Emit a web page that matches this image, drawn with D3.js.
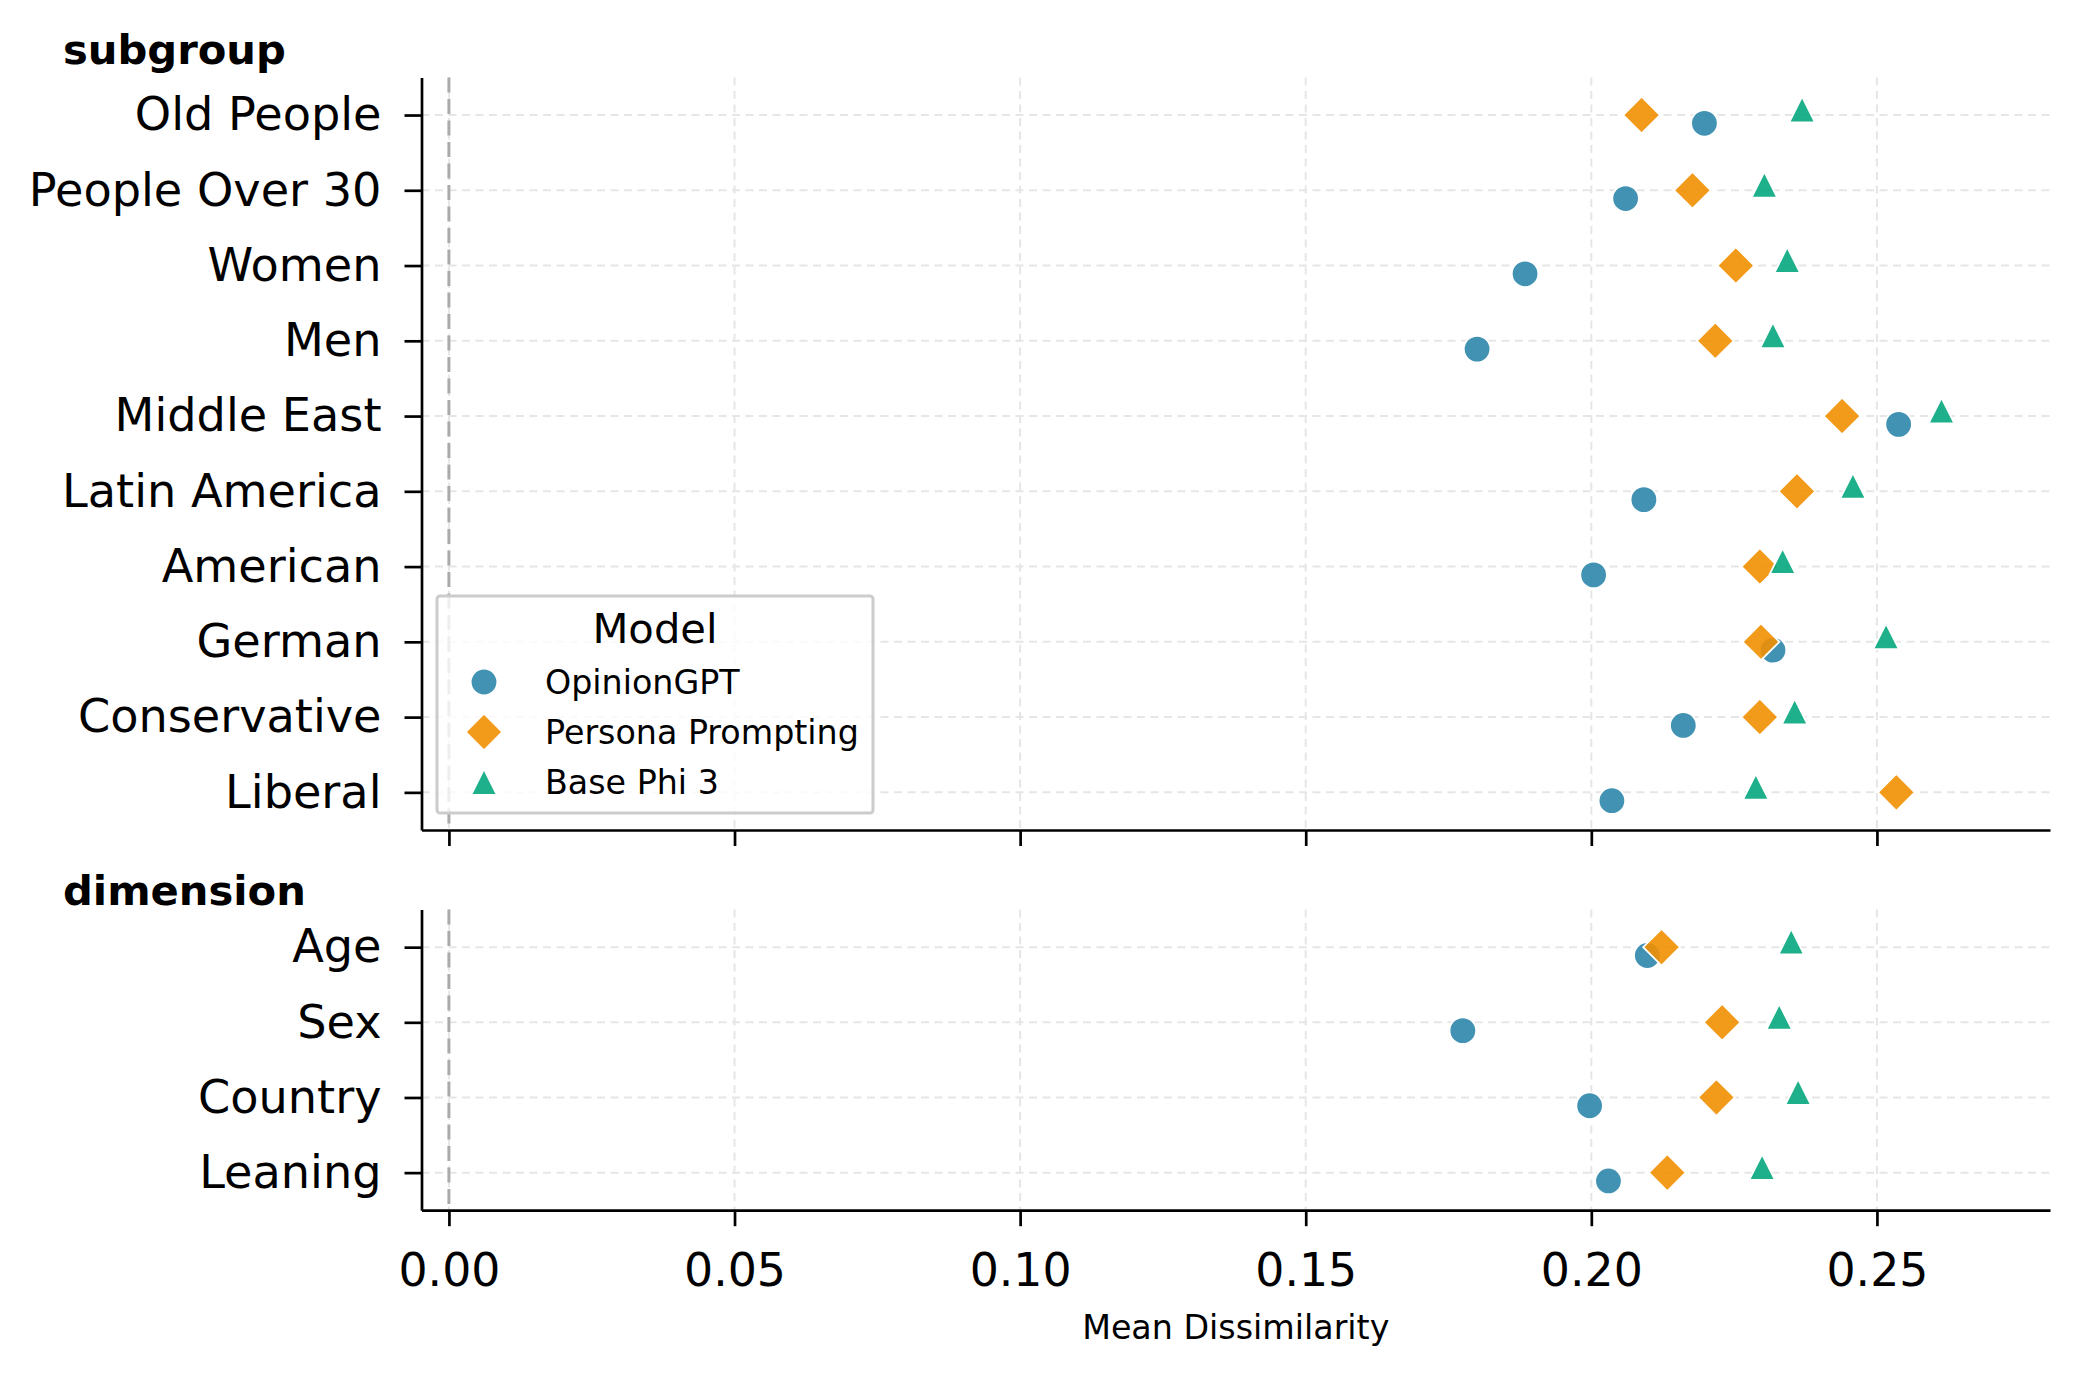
<!DOCTYPE html>
<html>
<head>
<meta charset="utf-8">
<script src="https://cdn.jsdelivr.net/npm/d3@7"></script>
<style>
  body { margin: 0; background: #fff; }
  svg { display: block; font-family: "DejaVu Sans", sans-serif; }
</style>
</head>
<body>
<svg id="chart" width="2078" height="1374"></svg>
<script>
// data
const subgroups = ["Old People", "People Over 30", "Women", "Men", "Middle East",
                   "Latin America", "American", "German", "Conservative", "Liberal"]
const subOpinionGPT = [0.2198, 0.2060, 0.1884, 0.1800, 0.2538, 0.2092, 0.2004, 0.2318, 0.2161, 0.2036]
const subPersona    = [0.2088, 0.2177, 0.2253, 0.2217, 0.2439, 0.2360, 0.2295, 0.2297, 0.2295, 0.2534]
const subBase       = [0.2369, 0.2303, 0.2343, 0.2318, 0.2613, 0.2458, 0.2335, 0.2516, 0.2356, 0.2288]

const dimensions = ["Age", "Sex", "Country", "Leaning"]
const dimOpinionGPT = [0.2098, 0.1775, 0.1997, 0.2030]
const dimPersona    = [0.2123, 0.2229, 0.2219, 0.2133]
const dimBase       = [0.2350, 0.2329, 0.2362, 0.2299]

const xTicks = [0, 0.05, 0.10, 0.15, 0.20, 0.25]
const modelNames = ["OpinionGPT", "Persona Prompting", "Base Phi 3"]

// marker shapes (matplotlib-like)
const diamondShape = {
    draw(ctx, size) {
        const r = Math.sqrt(size) / 2
        ctx.moveTo(0, -r); ctx.lineTo(r, 0); ctx.lineTo(0, r); ctx.lineTo(-r, 0); ctx.closePath()
    }
}
const triangleShape = {
    draw(ctx, size) {
        const r = Math.sqrt(size) / 2
        ctx.moveTo(0, -r); ctx.lineTo(r, r); ctx.lineTo(-r, r); ctx.closePath()
    }
}

const styles = [
    { color: "#2E86AB", type: d3.symbolCircle, size: 556, dy: 8.3 },
    { color: "#F18F01", type: diamondShape, size: 1354, dy: 0 },
    { color: "#06A77D", type: triangleShape, size: 660, dy: -5.5 }
]

const svg = d3.select("#chart")
const left = 421.5, right = 2050

const x = d3.scaleLinear().domain([-0.0048, 0.2803]).range([left, right])

function drawPanel(cats, seriesList, top, bottom, title, titleY, showLabels) {
    const y = d3.scalePoint().domain(cats).range([top, bottom]).padding(0.5)
    const g = svg.append("g")

    // grid
    g.selectAll(".hgrid").data(cats).enter().append("line")
        .attr("x1", left).attr("x2", right)
        .attr("y1", d => y(d)).attr("y2", d => y(d))
        .attr("stroke", "#e6e6e6").attr("stroke-width", 2)
        .attr("stroke-dasharray", "8,5.5")
    g.selectAll(".vgrid").data(xTicks).enter().append("line")
        .attr("x1", d => x(d)).attr("x2", d => x(d))
        .attr("y1", top).attr("y2", bottom)
        .attr("stroke", "#e6e6e6").attr("stroke-width", 2)
        .attr("stroke-dasharray", "8,5.5")

    // zero reference line
    g.append("line")
        .attr("x1", x(0)).attr("x2", x(0))
        .attr("y1", top).attr("y2", bottom)
        .attr("stroke", "#aaaaaa").attr("stroke-width", 3)
        .attr("stroke-dasharray", "15,6.5")

    // points
    seriesList.forEach((vals, i) => {
        const st = styles[i]
        g.selectAll(".pt" + i).data(vals).enter().append("path")
            .attr("d", d3.symbol().type(st.type).size(st.size))
            .attr("transform", (d, j) => `translate(${x(d)},${y(cats[j]) + st.dy})`)
            .attr("fill", st.color).attr("fill-opacity", 0.9)
            .attr("stroke", "#ffffff").attr("stroke-width", 1.8)
    })

    // axes
    const yAxis = g.append("g")
        .attr("transform", `translate(${left},0)`)
        .call(d3.axisLeft(y).tickSize(17).tickPadding(23).tickSizeOuter(0))
    yAxis.selectAll("text").attr("font-size", 46.2).attr("fill", "#000")
        .attr("font-family", "DejaVu Sans")
    yAxis.selectAll("line, path").attr("stroke", "#000").attr("stroke-width", 2.7)

    const xAxis = g.append("g")
        .attr("transform", `translate(0,${bottom})`)
        .call(d3.axisBottom(x).tickValues(xTicks).tickFormat(d3.format(".2f"))
              .tickSize(16).tickPadding(27).tickSizeOuter(0))
    xAxis.selectAll("line, path").attr("stroke", "#000").attr("stroke-width", 2.7)
    xAxis.selectAll("text").attr("font-size", 45.8).attr("fill", "#000")
        .attr("font-family", "DejaVu Sans")
        .style("display", showLabels ? null : "none")

    // panel title
    svg.append("text")
        .attr("x", 63).attr("y", titleY)
        .attr("dominant-baseline", "central")
        .attr("font-size", 41.7).attr("font-weight", "bold")
        .text(title)
}

drawPanel(subgroups, [subOpinionGPT, subPersona, subBase], 77.4, 830, "subgroup", 49, false)
drawPanel(dimensions, [dimOpinionGPT, dimPersona, dimBase], 909.6, 1210.2, "dimension", 890, true)

// x label
svg.append("text")
    .attr("x", (left + right) / 2).attr("y", 1327)
    .attr("text-anchor", "middle").attr("dominant-baseline", "central")
    .attr("font-size", 33.3)
    .text("Mean Dissimilarity")

// legend
const legend = svg.append("g")
legend.append("rect")
    .attr("x", 437).attr("y", 596).attr("width", 436).attr("height", 217)
    .attr("rx", 3)
    .attr("fill", "#ffffff").attr("fill-opacity", 0.8)
    .attr("stroke", "#cccccc").attr("stroke-width", 3)
legend.append("text")
    .attr("x", 655).attr("y", 628)
    .attr("text-anchor", "middle").attr("dominant-baseline", "central")
    .attr("font-size", 41.7)
    .text("Model")
const legendRows = [682, 732, 782]
modelNames.forEach((name, i) => {
    const st = styles[i]
    legend.append("path")
        .attr("d", d3.symbol().type(st.type).size(st.size))
        .attr("transform", `translate(484,${legendRows[i]})`)
        .attr("fill", st.color).attr("fill-opacity", 0.9)
        .attr("stroke", "#ffffff").attr("stroke-width", 1.8)
    legend.append("text")
        .attr("x", 545).attr("y", legendRows[i])
        .attr("dominant-baseline", "central")
        .attr("font-size", 33.3)
        .text(name)
})
</script>
</body>
</html>
